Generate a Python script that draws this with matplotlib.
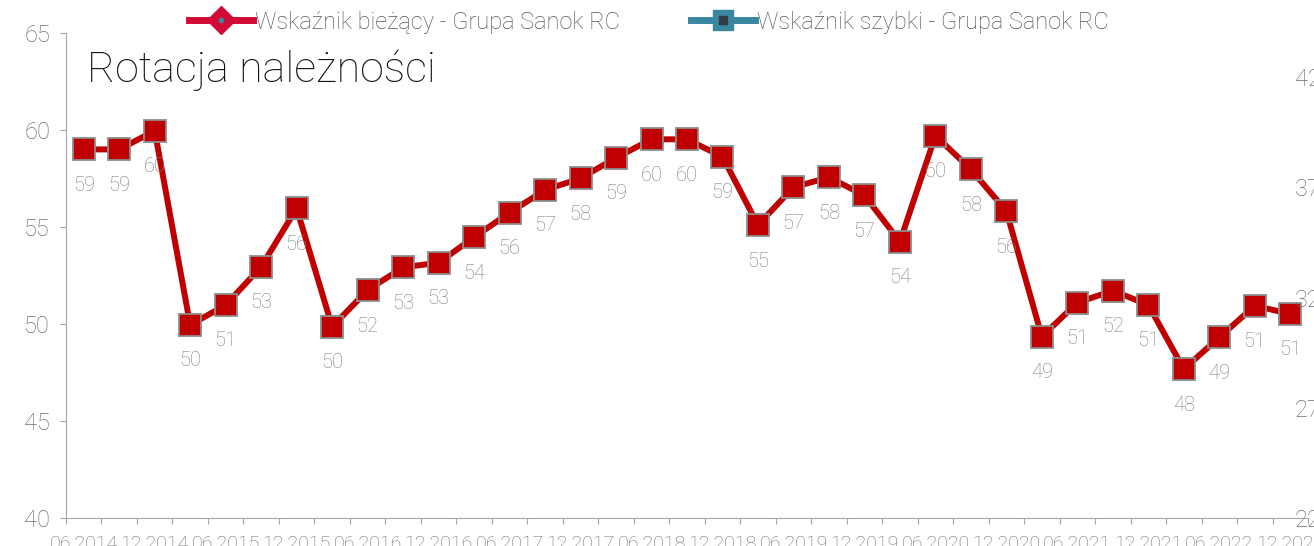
import matplotlib
matplotlib.use("Agg")
import matplotlib.pyplot as plt
from matplotlib.lines import Line2D
from matplotlib.legend_handler import HandlerTuple
import numpy as np

plt.rcParams['font.family'] = ['Roboto', 'DejaVu Sans']
plt.rcParams['font.weight'] = 'light'

# quarterly dates, 06.2014 .. 12.2022
quarters = ['06.2014', '09.2014', '12.2014', '03.2015', '06.2015', '09.2015', '12.2015',
            '03.2016', '06.2016', '09.2016', '12.2016', '03.2017', '06.2017', '09.2017',
            '12.2017', '03.2018', '06.2018', '09.2018', '12.2018', '03.2019', '06.2019',
            '09.2019', '12.2019', '03.2020', '06.2020', '09.2020', '12.2020', '03.2021',
            '06.2021', '09.2021', '12.2021', '03.2022', '06.2022', '09.2022', '12.2022']
rotacja = [59.0, 59.0, 59.96, 49.95, 50.98, 52.95, 55.96, 49.86, 51.75, 52.92, 53.16,
           54.47, 55.74, 56.91, 57.51, 58.57, 59.52, 59.52, 58.62, 55.10, 57.05, 57.56,
           56.63, 54.24, 59.71, 57.97, 55.82, 49.35, 51.10, 51.72, 50.98, 47.68, 49.31,
           50.94, 50.52]
szybki = []  # no visible values in the chart

left_ticks = [40, 45, 50, 55, 60, 65]
right_ticks = [22, 27, 32, 37, 42]

GRAY = '#6e6e6e'
AX = '#a6a6a6'

fig = plt.figure(figsize=(13.14, 5.46), dpi=100)
ax = fig.add_axes([66 / 1314, 28 / 546, 1242 / 1314, 485 / 546])

x = np.arange(len(quarters))
ax.plot(x, rotacja, color='#c00000', lw=4.3, marker='s', ms=15.5,
        mfc='#c00000', mec='#8c8c8c', mew=1.3, zorder=3)
for xi, v in zip(x, rotacja):
    ax.annotate(f"{int(v + 0.5)}", (xi, v), xytext=(0, -36), textcoords='offset pixels',
                ha='center', va='center', fontsize=14.5, color='#7f7f7f', zorder=4)

ax.set_xlim(-0.5, len(quarters) - 0.5)
ax.set_ylim(40, 65)
ax.set_yticks(left_ticks)
ax.tick_params(axis='y', colors=AX, labelcolor=GRAY, labelsize=17, length=4.5, pad=7)

ax.set_xticks(np.arange(len(quarters) + 1) - 0.5)
ax.set_xticklabels([])
ax.set_xticks(x[::2], minor=True)
ax.set_xticklabels(quarters[::2], minor=True)
ax.tick_params(axis='x', which='major', colors=AX, length=4.5)
ax.tick_params(axis='x', which='minor', length=0, pad=12.5, labelsize=14, labelcolor=GRAY)

for s in ['top', 'right']:
    ax.spines[s].set_visible(False)
for s in ['left', 'bottom']:
    ax.spines[s].set_color(AX)

ax2 = ax.twinx()
ax2.set_ylim(22, 44)
ax2.set_yticks(right_ticks)
ax2.tick_params(axis='y', length=0, pad=-9.4, labelsize=17, labelcolor=GRAY)
for s in ax2.spines.values():
    s.set_visible(False)
ax2.plot(x[:len(szybki)], szybki, color='#3a87a0')

ax.text(87 / 1314, 1 - 70 / 546, 'Rotacja należności', transform=fig.transFigure,
        fontsize=31, color='#111111', va='center', ha='left', fontweight='light')

h1 = (Line2D([], [], color='#d20a35', lw=5, marker='D', ms=14, mfc='#d20a35', mec='#d20a35'),
      Line2D([], [], ls='none', marker='o', ms=3, mfc='#3a87a0', mec='#3a87a0'))
h2 = (Line2D([], [], color='#3a87a0', lw=5, marker='s', ms=14, mfc='#3a87a0', mec='#3a87a0'),
      Line2D([], [], ls='none', marker='s', ms=6, mfc='#333b45', mec='#333b45'))
fig.legend([h1, h2], ['Wskaźnik bieżący - Grupa Sanok RC', 'Wskaźnik szybki - Grupa Sanok RC'],
           handler_map={tuple: HandlerTuple(ndivide=1)},
           loc='center', bbox_to_anchor=(649 / 1314, 1 - 22 / 546), ncol=2, frameon=False,
           fontsize=17, labelcolor='#555555', handlelength=2.7, handletextpad=0.1,
           columnspacing=3.0)

fig.savefig('out.png', dpi=100)
